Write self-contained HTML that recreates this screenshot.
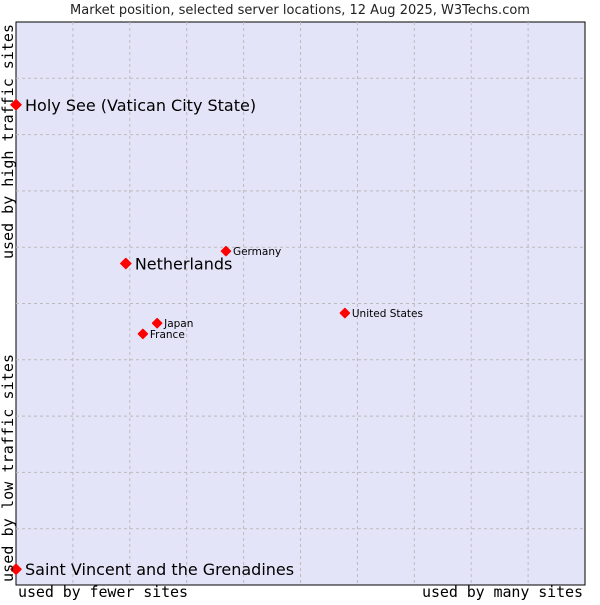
<!DOCTYPE html>
<html><head><meta charset="utf-8"><style>
body{margin:0;background:#fff;width:600px;height:600px;overflow:hidden}
text{font-family:"DejaVu Sans","Liberation Sans",sans-serif}
.mono{font-family:"DejaVu Sans Mono","Liberation Mono",monospace}
</style></head><body>
<svg id="c" width="600" height="600">
<text x="300" y="14" text-anchor="middle" font-size="13" fill="#222">Market position, selected server locations, 12 Aug 2025, W3Techs.com</text>
<rect x="16" y="22" width="569" height="563" fill="#e4e4f8" stroke="#000" stroke-width="1"/>
<g id="grid"></g>
<g id="pts"></g>
<text class="mono" x="18" y="597" font-size="15" textLength="170" fill="#000">used by fewer sites</text>
<text class="mono" x="422" y="597" font-size="15" textLength="161" fill="#000">used by many sites</text>
<text class="mono" transform="translate(13,582) rotate(-90)" font-size="15" textLength="228" fill="#000">used by low traffic sites</text>
<text class="mono" transform="translate(13,259) rotate(-90)" font-size="15" textLength="235" fill="#000">used by high traffic sites</text>
</svg>
<script>
const names=["Holy See (Vatican City State)","Netherlands","Germany","Japan","France","United States","Saint Vincent and the Grenadines"];
const xs=[0,19.3,36.9,24.8,22.3,57.8,0];
const ys=[85.3,57.1,59.3,46.5,44.6,48.3,2.8];
const big=[true,true,false,false,false,false,true];
const L=16,R=585,T=22,B=585;
const sx=v=>L+v/100*(R-L), sy=v=>B-v/100*(B-T);
const NS="http://www.w3.org/2000/svg";
const g=document.getElementById('grid');
for(let i=1;i<10;i++){
 let l=document.createElementNS(NS,'line');
 
 
 l.setAttribute('x1',sx(i*10));l.setAttribute('x2',sx(i*10));l.setAttribute('y1',T);l.setAttribute('y2',B);
 l.setAttribute('stroke','#bbb');l.setAttribute('stroke-dasharray','3,3');g.appendChild(l);
 let h=document.createElementNS(NS,'line');
 
 
 h.setAttribute('y1',sy(i*10));h.setAttribute('y2',sy(i*10));h.setAttribute('x1',L);h.setAttribute('x2',R);
 h.setAttribute('stroke','#bbb');h.setAttribute('stroke-dasharray','3,3');g.appendChild(h);
}
const p=document.getElementById('pts');
names.forEach((n,i)=>{
 const x=sx(xs[i]),y=sy(ys[i]);
 let d=document.createElementNS(NS,'path');
 
 
 const r=big[i]?5:4.5;
 d.setAttribute('d',`M${x} ${y-r}L${x+r} ${y}L${x} ${y+r}L${x-r} ${y}Z`);
 d.setAttribute('fill','#f00');d.setAttribute('stroke','#f00');d.setAttribute('stroke-width','1.5');d.setAttribute('stroke-linejoin','round');p.appendChild(d);
 let t=document.createElementNS(NS,'text');
 
 
 t.setAttribute('x',x+(big[i]?9:7));t.setAttribute('y',y+(big[i]?6:4));
 t.setAttribute('font-size',big[i]?16:10.5);t.setAttribute('fill','#000');
 t.textContent=n;p.appendChild(t);
});
</script>
</body></html>
